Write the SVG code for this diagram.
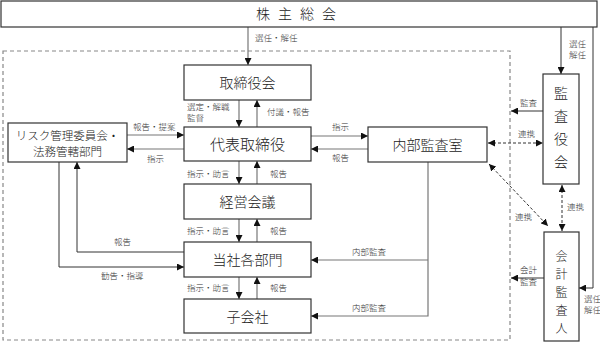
<svg xmlns="http://www.w3.org/2000/svg" width="600" height="343" viewBox="0 0 600 343">
<style>
.box{fill:#fff;stroke:#333;stroke-width:1.2}
.t{font-family:"Noto Sans CJK JP","Noto Sans CJK SC",sans-serif;fill:#222;font-weight:300}
.bt{font-size:14px;text-anchor:middle}
.sm{font-size:11.5px}
.vt{font-size:12px}
.lg{font-size:15px}
.lb{font-size:8.5px;fill:#333}
.ln{fill:none;stroke:#777;stroke-width:1.2}
.dk{fill:none;stroke:#333;stroke-width:1}
.ds{fill:none;stroke:#333;stroke-width:1;stroke-dasharray:3,2}
.frame{fill:none;stroke:#888;stroke-width:1.2;stroke-dasharray:4,3}
</style>
<defs>
<marker id="a" viewBox="0 0 10 10" refX="10" refY="5" markerWidth="7" markerHeight="7" markerUnits="userSpaceOnUse" orient="auto-start-reverse">
<path d="M0,0L10,5L0,10z" fill="#111"/>
</marker>
</defs>
<rect width="600" height="343" fill="#fff"/>
<rect class="frame" x="3" y="51" width="507" height="289"/>

<g id="connectors">
<line class="ln" x1="248" y1="27" x2="248" y2="65" marker-end="url(#a)"/>
<text class="t lb" x="255" y="41">選任・解任</text>
<line class="dk" x1="561" y1="27" x2="561" y2="74" marker-end="url(#a)"/>
<text class="t lb" x="569" y="47">選任</text>
<text class="t lb" x="569" y="58">解任</text>
<polyline class="dk" points="593,27 593,288 579,288" marker-end="url(#a)"/>
<text class="t lb" x="584" y="302">選任</text>
<text class="t lb" x="584" y="313">解任</text>

<line class="ln" x1="239" y1="100" x2="239" y2="127" marker-end="url(#a)"/>
<line class="ln" x1="257" y1="127" x2="257" y2="100" marker-end="url(#a)"/>
<text class="t lb" x="187" y="110">選定・解職</text>
<text class="t lb" x="187" y="121">監督</text>
<text class="t lb" x="267" y="115">付議・報告</text>

<line class="ln" x1="127" y1="135" x2="184" y2="135" marker-end="url(#a)"/>
<line class="ln" x1="184" y1="149" x2="127" y2="149" marker-end="url(#a)"/>
<text class="t lb" x="133" y="130">報告・提案</text>
<text class="t lb" x="147" y="162">指示</text>

<line class="ln" x1="311" y1="136" x2="368" y2="136" marker-end="url(#a)"/>
<line class="ln" x1="368" y1="149" x2="311" y2="149" marker-end="url(#a)"/>
<text class="t lb" x="332" y="130">指示</text>
<text class="t lb" x="332" y="161">報告</text>

<line class="ln" x1="239" y1="161" x2="239" y2="184" marker-end="url(#a)"/>
<line class="ln" x1="257" y1="184" x2="257" y2="161" marker-end="url(#a)"/>
<text class="t lb" x="187" y="177">指示・助言</text>
<text class="t lb" x="270" y="177">報告</text>

<line class="ln" x1="239" y1="219" x2="239" y2="242" marker-end="url(#a)"/>
<line class="ln" x1="257" y1="242" x2="257" y2="219" marker-end="url(#a)"/>
<text class="t lb" x="187" y="234">指示・助言</text>
<text class="t lb" x="270" y="234">報告</text>

<line class="ln" x1="239" y1="277" x2="239" y2="299" marker-end="url(#a)"/>
<line class="ln" x1="257" y1="299" x2="257" y2="277" marker-end="url(#a)"/>
<text class="t lb" x="187" y="291">指示・助言</text>
<text class="t lb" x="270" y="291">報告</text>

<polyline class="dk" points="184,252 77,252 77,162" marker-end="url(#a)"/>
<text class="t lb" x="114" y="245">報告</text>
<polyline class="dk" points="59,162 59,267 184,267" marker-end="url(#a)"/>
<text class="t lb" x="101" y="279">勧告・指導</text>

<polyline class="ln" points="428,162 428,316 311,316" marker-end="url(#a)"/>
<line class="ln" x1="428" y1="260" x2="311" y2="260" marker-end="url(#a)"/>
<text class="t lb" x="352" y="255">内部監査</text>
<text class="t lb" x="352" y="311">内部監査</text>

<line class="dk" x1="543" y1="111" x2="511" y2="111" marker-end="url(#a)"/>
<text class="t lb" x="520" y="106">監査</text>
<line class="ds" x1="488" y1="143" x2="543" y2="143" marker-start="url(#a)" marker-end="url(#a)"/>
<text class="t lb" x="518" y="137">連携</text>
<line class="ds" x1="489" y1="164" x2="548" y2="226" marker-start="url(#a)" marker-end="url(#a)"/>
<text class="t lb" x="515" y="220">連携</text>
<line class="ds" x1="562" y1="185" x2="562" y2="231" marker-start="url(#a)" marker-end="url(#a)"/>
<text class="t lb" x="567" y="210">連携</text>
<line class="dk" x1="544" y1="278" x2="511" y2="278" marker-end="url(#a)"/>
<text class="t lb" x="520" y="273">会計</text>
<text class="t lb" x="520" y="285">監査</text>
</g>

<g id="n-soukai">
<rect class="box" x="1" y="1" width="596" height="26"/>
<text class="t bt" x="300" y="19" letter-spacing="8">株主総会</text>
</g>
<g id="n-torishimariyakukai">
<rect class="box" x="184" y="65" width="127" height="35"/>
<text class="t bt" x="247.5" y="88">取締役会</text>
</g>
<g id="n-daihyo">
<rect class="box" x="184" y="127" width="127" height="34"/>
<text class="t bt lg" x="247.5" y="150">代表取締役</text>
</g>
<g id="n-risk">
<rect class="box" x="8" y="123" width="119" height="39"/>
<text class="t bt sm" x="67.5" y="140">リスク管理委員会・</text>
<text class="t bt sm" x="67.5" y="156">法務管轄部門</text>
</g>
<g id="n-naibu">
<rect class="box" x="368" y="127" width="119" height="35"/>
<text class="t bt" x="427.5" y="150">内部監査室</text>
</g>
<g id="n-keiei">
<rect class="box" x="184" y="184" width="127" height="35"/>
<text class="t bt" x="247.5" y="207">経営会議</text>
</g>
<g id="n-kakubumon">
<rect class="box" x="184" y="242" width="127" height="35"/>
<text class="t bt" x="247.5" y="265">当社各部門</text>
</g>
<g id="n-kogaisha">
<rect class="box" x="184" y="299" width="127" height="34"/>
<text class="t bt" x="247.5" y="322">子会社</text>
</g>
<g id="n-kansayakukai">
<rect class="box" x="543" y="74" width="36" height="110"/>
<text class="t bt" x="561" y="98">監</text>
<text class="t bt" x="561" y="121">査</text>
<text class="t bt" x="561" y="144">役</text>
<text class="t bt" x="561" y="167">会</text>
</g>
<g id="n-kaikei">
<rect class="box" x="544" y="232" width="35" height="109"/>
<text class="t bt vt" x="561.5" y="261">会</text>
<text class="t bt vt" x="561.5" y="279">計</text>
<text class="t bt vt" x="561.5" y="297">監</text>
<text class="t bt vt" x="561.5" y="315">査</text>
<text class="t bt vt" x="561.5" y="333">人</text>
</g>
</svg>
